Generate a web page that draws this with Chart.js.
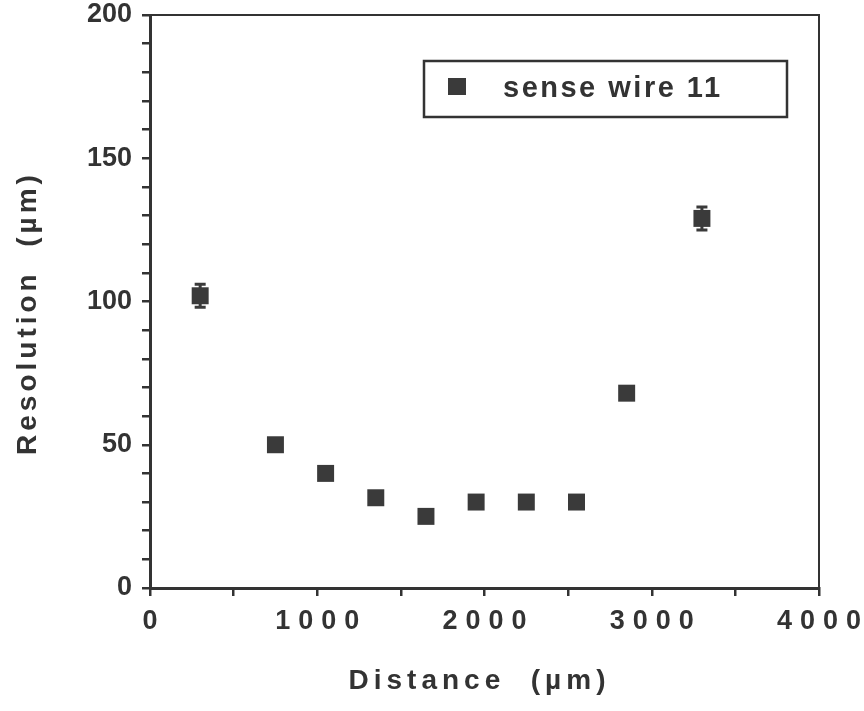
<!DOCTYPE html>
<html>
<head>
<meta charset="utf-8">
<script src="https://cdn.jsdelivr.net/npm/chart.js@4"></script>
<style>
  body { margin: 0; background: #fff; }
  canvas { display: block; }
</style>
</head>
<body>
<canvas id="resChart" width="864" height="711"></canvas>
<script>
// Data
const distance = [300, 750, 1050, 1350, 1650, 1950, 2250, 2550, 2850, 3300];
const resolution = [102, 50, 40, 31.5, 25, 30, 30, 30, 68, 129];
const resError = [4, 2, 2, 2, 2, 2, 2, 2, 2, 4];
const xLabels = [0, 1000, 2000, 3000, 4000];
const yLabels = [0, 50, 100, 150, 200];
const seriesName = 'sense wire 11';

const ink = '#333333';
const markColor = '#3a3a3a';
const fontFamily = '"Liberation Sans", Arial, Helvetica, sans-serif';

function spacedText(ctx, text, x, y, spacing, align) {
    ctx.letterSpacing = spacing + 'px';
    const w = ctx.measureText(text).width - spacing;
    let sx = x;
    if (align === 'center') sx = x - w / 2;
    else if (align === 'right') sx = x - w;
    ctx.textAlign = 'left';
    ctx.fillText(text, sx, y);
    ctx.letterSpacing = '0px';
}

// Error bars under the markers
const errorBars = {
    id: 'errorBars',
    beforeDatasetsDraw(chart) {
        const { ctx, scales: { x, y } } = chart;
        ctx.save();
        ctx.strokeStyle = markColor;
        ctx.lineWidth = 3;
        distance.forEach((d, i) => {
            const px = x.getPixelForValue(d);
            const top = y.getPixelForValue(resolution[i] + resError[i]);
            const bot = y.getPixelForValue(resolution[i] - resError[i]);
            ctx.beginPath();
            ctx.moveTo(px, top); ctx.lineTo(px, bot);
            ctx.moveTo(px - 5.5, top); ctx.lineTo(px + 5.5, top);
            ctx.moveTo(px - 5.5, bot); ctx.lineTo(px + 5.5, bot);
            ctx.stroke();
        });
        ctx.restore();
    }
};

// Frame, x tick labels, axis titles and legend box
const decorations = {
    id: 'decorations',
    afterDraw(chart) {
        const { ctx, chartArea: a, scales: { x } } = chart;
        ctx.save();
        ctx.strokeStyle = ink;
        ctx.lineWidth = 2;
        ctx.beginPath();
        ctx.moveTo(a.left, a.top);
        ctx.lineTo(a.right, a.top);
        ctx.lineTo(a.right, a.bottom);
        ctx.stroke();

        ctx.fillStyle = ink;
        ctx.font = 'bold 27px ' + fontFamily;
        ctx.textBaseline = 'middle';
        xLabels.forEach(v => {
            spacedText(ctx, String(v), x.getPixelForValue(v), 622, 8, 'center');
        });

        // axis titles
        ctx.font = 'bold 28px ' + fontFamily;
        spacedText(ctx, 'Distance  (\u00b5m)', 477, 681, 5, 'center');
        ctx.save();
        ctx.translate(28, 315);
        ctx.rotate(-Math.PI / 2);
        spacedText(ctx, 'Resolution  (\u00b5m)', 0, 0, 4, 'center');
        ctx.restore();

        // legend
        ctx.lineWidth = 2.5;
        ctx.strokeRect(424, 61, 363, 56);
        ctx.fillStyle = markColor;
        ctx.fillRect(448, 78, 18, 17);
        ctx.fillStyle = ink;
        ctx.font = 'bold 29px ' + fontFamily;
        ctx.textBaseline = 'alphabetic';
        spacedText(ctx, seriesName, 503, 97, 2.5, 'left');
        ctx.restore();
    }
};

new Chart(document.getElementById('resChart'), {
    type: 'scatter',
    data: {
        datasets: [{
            label: seriesName,
            data: distance.map((d, i) => ({ x: d, y: resolution[i] })),
            pointStyle: 'rect',
            pointRadius: 12,
            pointHoverRadius: 12,
            backgroundColor: markColor,
            borderColor: markColor,
            borderWidth: 0
        }]
    },
    options: {
        responsive: false,
        animation: false,
        layout: { padding: { top: 15, right: 45, left: 0, bottom: 0 } },
        plugins: { legend: { display: false }, tooltip: { enabled: false } },
        scales: {
            x: {
                type: 'linear',
                min: 0, max: 4000,
                afterFit: s => { s.height = 123; s.paddingLeft = 0; s.paddingRight = 0; },
                border: { color: ink, width: 3 },
                grid: { drawOnChartArea: false, drawTicks: true, tickLength: 8, color: ink, lineWidth: 2.5 },
                ticks: { stepSize: 500, display: false }
            },
            y: {
                min: 0, max: 200,
                afterFit: s => { s.width = 150; s.paddingTop = 0; s.paddingBottom = 0; },
                border: { color: ink, width: 3 },
                grid: { drawOnChartArea: false, drawTicks: true, tickLength: 8, color: ink, lineWidth: 2.5 },
                ticks: {
                    stepSize: 10,
                    padding: 10,
                    autoSkip: false,
                    color: ink,
                    font: { family: fontFamily, size: 27, weight: 'bold' },
                    callback: v => yLabels.includes(v) ? String(v) : ''
                }
            }
        }
    },
    plugins: [errorBars, decorations]
});
</script>
</body>
</html>
